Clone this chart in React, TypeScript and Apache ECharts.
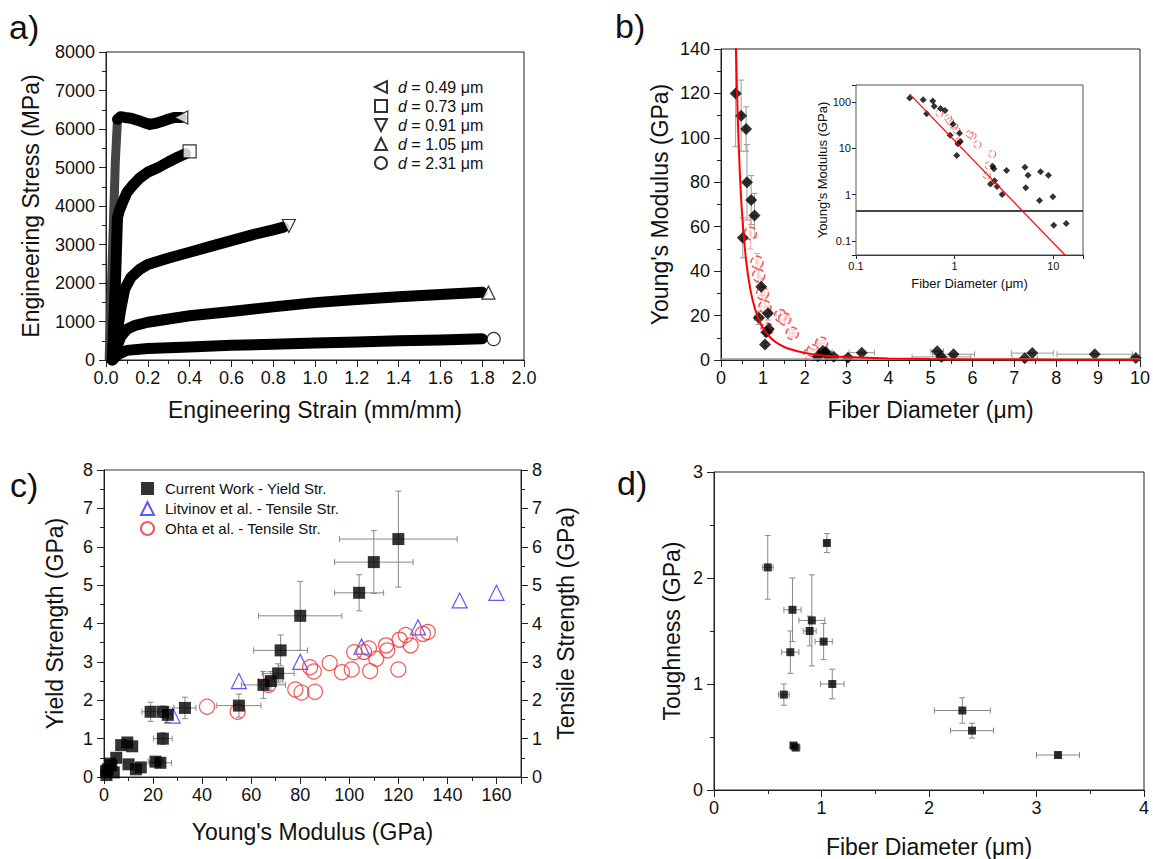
import React, { useEffect, useRef } from 'react';
import * as echarts from 'echarts';

const FONT = "'Liberation Sans', Arial, Helvetica, sans-serif";

// ---------- Panel a: stress-strain curves ----------
const curve049Rise: number[][] = [[0.015, 0], [0.03, 2600], [0.045, 5200], [0.055, 6250]];
const curve049: number[][] = [[0.055, 6250], [0.07, 6320], [0.09, 6300], [0.12, 6280], [0.15, 6230], [0.18, 6170], [0.21, 6120], [0.24, 6150], [0.27, 6200], [0.3, 6260], [0.33, 6300], [0.36, 6300]];
const curve073: number[][] = [[0.03, 0], [0.045, 2000], [0.055, 3700], [0.065, 3900], [0.08, 4100], [0.1, 4350], [0.13, 4550], [0.16, 4720], [0.2, 4880], [0.25, 5000], [0.3, 5150], [0.34, 5260], [0.38, 5360]];
const curve091: number[][] = [[0.03, 0], [0.05, 600], [0.07, 1300], [0.09, 1850], [0.12, 2150], [0.16, 2350], [0.2, 2480], [0.3, 2650], [0.4, 2800], [0.5, 2950], [0.6, 3100], [0.7, 3250], [0.8, 3380], [0.85, 3450]];
const curve105: number[][] = [[0.03, 0], [0.05, 300], [0.07, 600], [0.1, 800], [0.14, 900], [0.2, 980], [0.4, 1150], [0.6, 1260], [0.8, 1380], [1.0, 1490], [1.2, 1570], [1.4, 1640], [1.6, 1700], [1.8, 1760]];
const curve231: number[][] = [[0.03, 0], [0.06, 150], [0.1, 250], [0.2, 300], [0.4, 340], [0.6, 380], [0.8, 410], [1.0, 440], [1.2, 470], [1.4, 500], [1.6, 520], [1.8, 550]];
const endsA: number[][] = [[0.36, 6300], [0.4, 5420], [0.875, 3480], [1.83, 1750], [1.855, 545]];
const namesA = ['d = 0.49 μm', 'd = 0.73 μm', 'd = 0.91 μm', 'd = 1.05 μm', 'd = 2.31 μm'];

// ---------- Panel b: modulus vs diameter [x, y, xerr, yerr] ----------
const bDiamonds: number[][] = [
  [0.35, 120, 0.04, 24], [0.48, 110, 0.03, 16], [0.52, 55, 0.03, 9], [0.6, 104, 0.04, 10],
  [0.62, 80, 0.05, 17], [0.72, 72, 0.06, 11], [0.8, 65, 0.05, 10], [0.9, 19, 0.1, 3],
  [0.96, 33, 0.03, 4], [1.05, 7, 0, 1], [1.08, 12.5, 0.05, 2], [1.12, 21, 0.08, 3],
  [1.14, 14, 0.05, 2], [2.31, 1.7, 0.1, 0.3], [2.43, 4.1, 0.1, 0.5], [2.5, 3.6, 0.15, 0.4],
  [2.54, 2, 0.1, 0.3], [2.69, 1.5, 0.1, 0.2], [3.03, 1, 0.1, 0.1], [3.36, 3.3, 0.3, 0.3],
  [5.16, 3.9, 0.15, 0.3], [5.26, 1.4, 0.7, 0.3], [5.55, 2.6, 0.5, 0.3], [7.25, 0.75, 0.3, 0.1],
  [7.43, 3.1, 0.5, 0.3], [8.92, 2.6, 0.9, 0.3], [9.9, 0.9, 0.1, 0.6], [10.1, 0.22, 0.3, 0.03],
  [13.5, 0.24, 0, 0],
];
const bCircles: number[][] = [
  [0.7, 57, 0.03, 7], [0.86, 44, 0.03, 4], [0.9, 38, 0.03, 3], [0.99, 30, 0.05, 3],
  [1.05, 24, 0.1, 5], [1.1, 14, 0.05, 2], [1.42, 20, 0.1, 2], [1.52, 18.5, 0.1, 2],
  [1.7, 12, 0.06, 1.5], [2.12, 2.6, 0.08, 0.5], [2.2, 4.2, 0.08, 0.5], [2.4, 7.5, 0.08, 1.2],
];
const bFit: number[][] = [
  [0.355, 141.5], [0.4, 108.9], [0.45, 84], [0.5, 66.6], [0.6, 44.6], [0.7, 31.8], [0.8, 23.7],
  [0.9, 18.3], [1, 14.5], [1.2, 9.7], [1.4, 6.9], [1.6, 5.2], [2, 3.2], [2.5, 1.9], [3, 1.3],
  [4, 0.69], [5, 0.42], [6, 0.28], [8, 0.15], [10, 0.09],
];
const insetFit: number[][] = [[0.35, 146], [13.5, 0.047]];
const bulkModulus = 0.45;

// ---------- Panel c: strength vs modulus ----------
const cCurrent: number[][] = [
  [120, 6.2, 24, 1.25], [110, 5.6, 16, 0.82], [104, 4.8, 10, 0.47], [80, 4.2, 17, 0.9],
  [72, 3.3, 11, 0.4], [71, 2.7, 6.5, 0.25], [68, 2.5, 5, 0.25], [65, 2.4, 9, 0.35],
  [55, 1.86, 9, 0.3], [33, 1.8, 4.5, 0.28], [19, 1.7, 3.5, 0.25], [24, 1.7, 2, 0.15],
  [26, 1.62, 2, 0.2], [24, 1.0, 3.8, 0.15], [21, 0.4, 3, 0.05], [23, 0.37, 4.5, 0.05],
  [7, 0.83, 0, 0], [9.5, 0.9, 0, 0], [11.5, 0.8, 0, 0], [10, 0.33, 0, 0], [13, 0.2, 0, 0],
  [15, 0.25, 0, 0], [5, 0.5, 0, 0], [2.5, 0.35, 0, 0], [1.5, 0.2, 0, 0], [4, 0.12, 0, 0],
  [1, 0.05, 0, 0], [3, 0.3, 0, 0], [0.8, 0.15, 0, 0],
];
const cLitvinov: number[][] = [[28, 1.6], [55, 2.5], [80, 3.0], [105, 3.4], [128, 3.9], [145, 4.6], [160, 4.8]];
const cOhta: number[][] = [
  [42, 1.83], [54.5, 1.7], [67, 2.4], [78, 2.28], [80.5, 2.2], [86, 2.22], [84, 2.86], [85.5, 2.75],
  [92, 2.97], [97, 2.73], [101, 2.8], [102, 3.25], [106, 3.26], [108, 3.35], [108.5, 2.76],
  [111, 3.08], [115, 3.43], [115.5, 3.3], [120.5, 3.58], [120, 2.8], [123, 3.7], [125, 3.43],
  [130, 3.73], [132, 3.78],
];
const namesC = ['Current Work - Yield Str.', 'Litvinov et al. - Tensile Str.', 'Ohta et al. - Tensile Str.'];

// ---------- Panel d: toughness vs diameter ----------
const dToughness: number[][] = [
  [0.5, 2.1, 0.05, 0.3], [1.05, 2.33, 0.02, 0.09], [0.73, 1.7, 0.08, 0.3], [0.91, 1.6, 0.12, 0.43],
  [0.89, 1.5, 0.06, 0.14], [1.02, 1.4, 0.08, 0.17], [0.71, 1.3, 0.08, 0.2], [0.65, 0.9, 0.05, 0.1],
  [1.1, 1.0, 0.11, 0.14], [2.31, 0.75, 0.26, 0.12], [2.4, 0.56, 0.2, 0.07], [3.2, 0.33, 0.2, 0.02],
  [0.74, 0.42, 0.03, 0.02], [0.76, 0.4, 0.04, 0.02],
];

const plain = (v: number) => String(Number(v.toPrecision(6)));

function mkAxis(o: any) {
  return {
    type: o.type || 'value',
    gridIndex: o.grid,
    position: o.position,
    min: o.min,
    max: o.max,
    interval: o.interval,
    logBase: o.logBase,
    name: o.name,
    nameLocation: 'middle',
    nameGap: o.nameGap,
    nameRotate: o.nameRotate,
    nameTextStyle: { fontSize: o.nameSize || 23, color: '#111', fontFamily: FONT },
    axisLine: { show: true, onZero: false, lineStyle: { color: '#222', width: 1 } },
    axisTick: { show: true, inside: false, length: o.tickLen || 7, lineStyle: { color: '#222', width: 1 } },
    minorTick: { show: !!o.minor, splitNumber: o.minor || 2, length: o.minorLen || 4, lineStyle: { color: '#222', width: 1 } },
    splitLine: { show: false },
    minorSplitLine: { show: false },
    axisLabel: {
      show: true,
      fontSize: o.labelSize || 18,
      color: '#111',
      fontFamily: FONT,
      margin: o.labelMargin || 9,
      formatter: o.formatter || plain,
      hideOverlap: false,
    },
  };
}

function errorBars(data: number[][], xi: number, yi: number, color: string, cap: number, width = 1) {
  return {
    type: 'custom',
    xAxisIndex: xi,
    yAxisIndex: yi,
    data,
    silent: true,
    clip: true,
    z: 1,
    encode: { x: 0, y: 1 },
    renderItem: (params: any, api: any) => {
      const x = api.value(0), y = api.value(1), xe = api.value(2), ye = api.value(3);
      const style = { stroke: color, lineWidth: width };
      const ch: any[] = [];
      if (xe > 0) {
        const a = api.coord([x - xe, y]);
        const b = api.coord([x + xe, y]);
        ch.push({ type: 'line', shape: { x1: a[0], y1: a[1], x2: b[0], y2: b[1] }, style });
        ch.push({ type: 'line', shape: { x1: a[0], y1: a[1] - cap, x2: a[0], y2: a[1] + cap }, style });
        ch.push({ type: 'line', shape: { x1: b[0], y1: b[1] - cap, x2: b[0], y2: b[1] + cap }, style });
      }
      if (ye > 0) {
        const a = api.coord([x, y - ye]);
        const b = api.coord([x, y + ye]);
        ch.push({ type: 'line', shape: { x1: a[0], y1: a[1], x2: b[0], y2: b[1] }, style });
        ch.push({ type: 'line', shape: { x1: a[0] - cap, y1: a[1], x2: a[0] + cap, y2: a[1] }, style });
        ch.push({ type: 'line', shape: { x1: b[0] - cap, y1: b[1], x2: b[0] + cap, y2: b[1] }, style });
      }
      return { type: 'group', children: ch };
    },
  };
}

const xy = (d: number[][]) => d.map((p) => [p[0], p[1]]);

const logFmt = (v: number) => {
  const l = Math.log10(v);
  if (Math.abs(l - Math.round(l)) > 1e-6) return '';
  return String(Number(v.toPrecision(3)));
};

const LEFT_TRI = 'path://M0,5 L10,0 L10,10 Z';
const DOWN_TRI = 'path://M0,0 L10,0 L5,10 Z';
const openBlack = { color: '#fff', borderColor: '#000', borderWidth: 1.2 };

function buildOption() {
  const aLines = [curve049, curve073, curve091, curve105, curve231].map((d) => ({
    type: 'line',
    xAxisIndex: 0,
    yAxisIndex: 0,
    data: d,
    symbol: 'none',
    showSymbol: false,
    silent: true,
    z: 2,
    lineStyle: { color: '#000', width: 11, join: 'round', cap: 'round' },
  }));
  const aSymbols = [LEFT_TRI, 'rect', DOWN_TRI, 'triangle', 'circle'];
  const aEnds = namesA.map((n, i) => ({
    type: 'scatter',
    name: n,
    xAxisIndex: 0,
    yAxisIndex: 0,
    data: [endsA[i]],
    symbol: aSymbols[i],
    symbolSize: 13,
    itemStyle: openBlack,
    z: 4,
  }));

  return {
    animation: false,
    backgroundColor: '#fff',
    textStyle: { fontFamily: FONT },
    grid: [
      { left: 106, top: 52, width: 418, height: 308, show: true, borderColor: '#222', borderWidth: 1, backgroundColor: 'transparent' },
      { left: 721, top: 49, width: 420, height: 311, show: true, borderColor: '#222', borderWidth: 1, backgroundColor: 'transparent' },
      { left: 856, top: 85, width: 227, height: 170, show: true, borderColor: '#555', borderWidth: 1, backgroundColor: '#fff', z: 3 },
      { left: 104, top: 470, width: 417, height: 307, show: true, borderColor: '#333', borderWidth: 1, backgroundColor: 'transparent' },
      { left: 714, top: 472, width: 430, height: 318, show: true, borderColor: '#222', borderWidth: 1, backgroundColor: 'transparent' },
    ],
    xAxis: [
      mkAxis({ grid: 0, min: 0, max: 2, interval: 0.2, minor: 2, name: 'Engineering Strain (mm/mm)', nameGap: 38, formatter: (v: number) => v.toFixed(1) }),
      mkAxis({ grid: 1, min: 0, max: 10, interval: 1, minor: 2, name: 'Fiber Diameter (μm)', nameGap: 38 }),
      mkAxis({ grid: 2, type: 'log', logBase: 10, min: 0.1, max: 20, name: 'Fiber Diameter (μm)', nameGap: 22, nameSize: 13, labelSize: 11, labelMargin: 5, tickLen: 4, formatter: logFmt }),
      mkAxis({ grid: 3, min: 0, max: 170, interval: 20, minor: 2, name: "Young's Modulus (GPa)", nameGap: 43, formatter: (v: number) => (v > 160 ? '' : plain(v)) }),
      mkAxis({ grid: 4, min: 0, max: 4, interval: 1, minor: 2, name: 'Fiber Diameter (μm)', nameGap: 45 }),
    ],
    yAxis: [
      mkAxis({ grid: 0, min: 0, max: 8000, interval: 1000, minor: 2, name: 'Engineering Stress (MPa)', nameGap: 64, labelMargin: 11 }),
      mkAxis({ grid: 1, min: 0, max: 140, interval: 20, minor: 2, name: "Young's Modulus (GPa)", nameGap: 50, labelMargin: 11 }),
      mkAxis({ grid: 2, type: 'log', logBase: 10, min: 0.05, max: 230, name: "Young's Modulus (GPa)", nameGap: 24, nameSize: 13, labelSize: 11, labelMargin: 5, tickLen: 4, formatter: logFmt }),
      mkAxis({ grid: 3, min: 0, max: 8, interval: 1, minor: 2, name: 'Yield Strength (GPa)', nameGap: 38, labelMargin: 11 }),
      mkAxis({ grid: 3, position: 'right', min: 0, max: 8, interval: 1, minor: 2, name: 'Tensile Strength (GPa)', nameGap: 33, nameRotate: 90, labelMargin: 11 }),
      mkAxis({ grid: 4, min: 0, max: 3, interval: 1, minor: 2, name: 'Toughness (GPa)', nameGap: 31, labelMargin: 11 }),
    ],
    legend: [
      {
        data: namesA,
        orient: 'vertical',
        left: 369,
        top: 74,
        itemWidth: 12,
        itemHeight: 12,
        itemGap: 3,
        selectedMode: false,
        formatter: (name: string) => '{p|}{i|d}' + name.slice(1),
        textStyle: {
          fontSize: 16,
          lineHeight: 16,
          color: '#111',
          fontFamily: FONT,
          rich: {
            i: { fontStyle: 'italic', fontSize: 16, lineHeight: 16, color: '#111', fontFamily: FONT },
            p: { width: 6 },
          },
        },
      },
      {
        data: namesC,
        orient: 'vertical',
        left: 135,
        top: 476,
        itemWidth: 13,
        itemHeight: 13,
        itemGap: 5,
        selectedMode: false,
        formatter: (name: string) => '{p|}' + name,
        textStyle: {
          fontSize: 15,
          lineHeight: 15,
          color: '#111',
          fontFamily: FONT,
          rich: { p: { width: 6 } },
        },
      },
    ],
    graphic: [
      { type: 'text', x: 9, y: 27, style: { text: 'a)', font: `34px ${FONT}`, fill: '#111', verticalAlign: 'middle' } },
      { type: 'text', x: 615, y: 26, style: { text: 'b)', font: `34px ${FONT}`, fill: '#111', verticalAlign: 'middle' } },
      { type: 'text', x: 10, y: 485, style: { text: 'c)', font: `34px ${FONT}`, fill: '#111', verticalAlign: 'middle' } },
      { type: 'text', x: 617, y: 483, style: { text: 'd)', font: `34px ${FONT}`, fill: '#111', verticalAlign: 'middle' } },
    ],
    series: [
      // panel a
      {
        type: 'line',
        xAxisIndex: 0,
        yAxisIndex: 0,
        data: curve049Rise,
        symbol: 'none',
        silent: true,
        z: 2,
        lineStyle: { color: '#444', width: 9, join: 'round' },
      },
      ...aLines,
      ...aEnds,
      // panel b main
      errorBars(bDiamonds, 1, 1, '#999', 3),
      errorBars(bCircles, 1, 1, '#f29a9a', 3),
      {
        type: 'line',
        xAxisIndex: 1,
        yAxisIndex: 1,
        data: bFit,
        symbol: 'none',
        smooth: 0.2,
        silent: true,
        z: 5,
        lineStyle: { color: '#ff0000', width: 2 },
        markLine: {
          silent: true,
          symbol: 'none',
          label: { show: false },
          lineStyle: { color: '#999', width: 1.5, type: 'solid' },
          data: [{ yAxis: bulkModulus }],
        },
      },
      {
        type: 'scatter',
        name: 'Ohta (b)',
        xAxisIndex: 1,
        yAxisIndex: 1,
        data: xy(bCircles),
        symbol: 'circle',
        symbolSize: 12,
        z: 3,
        itemStyle: { color: 'rgba(255,255,255,0.6)', borderColor: '#f03030', borderWidth: 1.5, borderType: 'dashed' },
      },
      {
        type: 'scatter',
        name: 'Current (b)',
        xAxisIndex: 1,
        yAxisIndex: 1,
        data: xy(bDiamonds),
        symbol: 'diamond',
        symbolSize: 12,
        z: 4,
        itemStyle: { color: '#000' },
      },
      // inset
      errorBars(bDiamonds, 2, 2, '#999', 2),
      errorBars(bCircles, 2, 2, '#f29a9a', 2),
      {
        type: 'line',
        xAxisIndex: 2,
        yAxisIndex: 2,
        data: insetFit,
        symbol: 'none',
        silent: true,
        z: 5,
        lineStyle: { color: '#ff0000', width: 1.2 },
        markLine: {
          silent: true,
          symbol: 'none',
          label: { show: false },
          lineStyle: { color: '#444', width: 2, type: 'solid' },
          data: [{ yAxis: bulkModulus }],
        },
      },
      {
        type: 'scatter',
        name: 'Ohta (inset)',
        xAxisIndex: 2,
        yAxisIndex: 2,
        data: xy(bCircles),
        symbol: 'circle',
        symbolSize: 7,
        z: 4,
        itemStyle: { color: 'rgba(255,255,255,0)', borderColor: '#f03030', borderWidth: 1, borderType: 'dashed' },
      },
      {
        type: 'scatter',
        name: 'Current (inset)',
        xAxisIndex: 2,
        yAxisIndex: 2,
        data: xy(bDiamonds),
        symbol: 'diamond',
        symbolSize: 7,
        z: 4,
        itemStyle: { color: '#000' },
      },
      // panel c
      errorBars(cCurrent, 3, 3, '#888', 3),
      {
        type: 'scatter',
        name: namesC[0],
        xAxisIndex: 3,
        yAxisIndex: 3,
        data: xy(cCurrent),
        symbol: 'rect',
        symbolSize: 12,
        z: 4,
        itemStyle: { color: '#000' },
      },
      {
        type: 'scatter',
        name: namesC[1],
        xAxisIndex: 3,
        yAxisIndex: 4,
        data: cLitvinov,
        symbol: 'triangle',
        symbolSize: 15,
        z: 3,
        itemStyle: { color: 'rgba(255,255,255,0)', borderColor: '#3030ff', borderWidth: 1.2 },
      },
      {
        type: 'scatter',
        name: namesC[2],
        xAxisIndex: 3,
        yAxisIndex: 4,
        data: cOhta,
        symbol: 'circle',
        symbolSize: 15,
        z: 3,
        itemStyle: { color: 'rgba(255,255,255,0)', borderColor: '#f03030', borderWidth: 1.2 },
      },
      // panel d
      errorBars(dToughness, 4, 5, '#888', 3),
      {
        type: 'scatter',
        name: 'Toughness',
        xAxisIndex: 4,
        yAxisIndex: 5,
        data: xy(dToughness),
        symbol: 'rect',
        symbolSize: 8,
        z: 4,
        itemStyle: { color: '#000' },
      },
    ],
  };
}

export default function App() {
  const ref = useRef<HTMLDivElement>(null);
  useEffect(() => {
    if (!ref.current) return;
    const chart = echarts.init(ref.current, null, { renderer: 'svg' });
    chart.setOption(buildOption() as any);
    return () => chart.dispose();
  }, []);
  return (
    <div
      ref={ref}
      style={{ position: 'absolute', left: 0, top: 0, width: 1153, height: 859, background: '#fff' }}
    />
  );
}
